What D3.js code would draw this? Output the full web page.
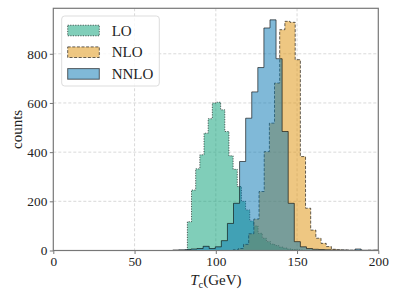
<!DOCTYPE html>
<html>
<head>
<meta charset="utf-8">
<script src="https://cdn.jsdelivr.net/npm/d3@7/dist/d3.min.js"></script>
<style>
  body { margin: 0; background: #fff; }
  text { font-family: "Liberation Serif", "DejaVu Serif", serif; fill: #222; }
</style>
</head>
<body>
<div id="chart"></div>
<script>
// histogram bins: first edge (GeV), bin width (GeV), counts per bin
var loStart = 82.5, loWidth = 2.56;
var loCounts = [117, 246, 332, 389, 477, 536, 600, 603, 572, 484, 385, 330, 260, 200,
  165, 120, 100, 70, 50, 36, 26, 20, 14, 10, 6, 4, 3, 2, 1, 1, 0, 1];

var nloStart = 110.7, nloWidth = 3.18;
var nloCounts = [3, 8, 25, 68, 128, 240, 402, 518, 681, 898, 932, 928, 776, 382, 172,
  83, 50, 29, 16, 5, 3, 2, 1, 1, 1, 0, 1];

var nnloStart = 73.5, nnloWidth = 3.74;
var nnloCounts = [2, 3, 4, 6, 8, 17, 8, 15, 40, 110, 192, 362, 538, 645, 744, 905, 938,
  780, 484, 192, 36, 15, 8, 5, 4, 3, 2, 2, 2, 1, 6, 1, 1, 2];

var xTicks = [0, 50, 100, 150, 200];
var yTicks = [0, 200, 400, 600, 800];

var series = [
  {label: 'LO', start: loStart, width: loWidth, counts: loCounts, color: '#029e73', dash: '1.2,1.3'},
  {label: 'NLO', start: nloStart, width: nloWidth, counts: nloCounts, color: '#de8f05', dash: '3,1.6'},
  {label: 'NNLO', start: nnloStart, width: nnloWidth, counts: nnloCounts, color: '#0173b2', dash: null}
];

var W = 399, H = 299;
var margin = {top: 8.3, right: 20.7, bottom: 48.5, left: 53.3};
var w = W - margin.left - margin.right,
    h = H - margin.top - margin.bottom;

var svg = d3.select('#chart').append('svg')
  .attr('width', W)
  .attr('height', H);

var g = svg.append('g')
  .attr('transform', 'translate(' + margin.left + ',' + margin.top + ')');

var x = d3.scaleLinear().domain([0, 200]).range([0, w]);
var y = d3.scaleLinear().domain([0, 985]).range([h, 0]);

// grid
g.append('g').selectAll('line').data(xTicks.slice(1, -1)).enter().append('line')
  .attr('x1', x).attr('x2', x).attr('y1', 0).attr('y2', h)
  .style('stroke', '#cfcfcf').style('stroke-width', 0.8).style('stroke-dasharray', '3,2');
g.append('g').selectAll('line').data(yTicks.slice(1)).enter().append('line')
  .attr('y1', y).attr('y2', y).attr('x1', 0).attr('x2', w)
  .style('stroke', '#cfcfcf').style('stroke-width', 0.8).style('stroke-dasharray', '3,2');

svg.append('defs').append('clipPath').attr('id', 'clip')
  .append('rect').attr('width', w).attr('height', h);

var line = d3.line()
  .x(function(d) { return x(d[0]); })
  .y(function(d) { return y(d[1]); });

function steps(s) {
  var pts = [[s.start, 0]];
  s.counts.forEach(function(c, i) {
    pts.push([s.start + i * s.width, c]);
    pts.push([s.start + (i + 1) * s.width, c]);
  });
  pts.push([s.start + s.counts.length * s.width, 0]);
  return pts;
}

var hist = g.append('g').attr('clip-path', 'url(#clip)');
series.forEach(function(s) {
  hist.append('path')
    .attr('d', line(steps(s)))
    .style('fill', s.color)
    .style('fill-opacity', 0.5)
    .style('stroke', '#000')
    .style('stroke-opacity', 0.6)
    .style('stroke-width', 1)
    .style('stroke-dasharray', s.dash);
});

// axes
var xAxis = g.append('g').attr('transform', 'translate(0,' + h + ')')
  .call(d3.axisBottom(x).tickValues(xTicks).tickSize(3.5).tickPadding(3));
var yAxis = g.append('g')
  .call(d3.axisLeft(y).tickValues(yTicks).tickSize(3.5).tickPadding(2.5));
[xAxis, yAxis].forEach(function(a) {
  a.select('.domain').remove();
  a.selectAll('line').style('stroke', '#777');
  a.selectAll('text').style('font-size', '13.3px').style('fill', '#222')
    .style('font-family', '"Liberation Serif", serif');
});

g.append('rect').attr('width', w).attr('height', h)
  .style('fill', 'none').style('stroke', '#777').style('stroke-width', 1.2);

// labels
var xl = svg.append('text')
  .attr('x', margin.left + w / 2).attr('y', 285)
  .attr('text-anchor', 'middle')
  .style('font-size', '15px');
xl.append('tspan').style('font-style', 'italic').text('T');
xl.append('tspan').attr('dy', 3).style('font-size', '10.5px').text('c');
xl.append('tspan').attr('dy', -3).text('(GeV)');

svg.append('text')
  .attr('transform', 'translate(22,' + (margin.top + h / 2) + ')rotate(-90)')
  .attr('text-anchor', 'middle')
  .style('font-size', '15px')
  .text('counts');

// legend
var leg = g.append('g').attr('transform', 'translate(8.4,7.7)');
leg.append('rect')
  .attr('width', 97.6).attr('height', 70).attr('rx', 3)
  .style('fill', '#fff').style('fill-opacity', 0.8)
  .style('stroke', '#ddd').style('stroke-width', 1);
series.forEach(function(s, i) {
  var row = leg.append('g').attr('transform', 'translate(6,' + (14.5 + i * 21.7) + ')');
  row.append('rect')
    .attr('y', -5.3).attr('width', 31.6).attr('height', 10.6)
    .style('fill', s.color).style('fill-opacity', 0.5)
    .style('stroke', '#000').style('stroke-opacity', 0.6).style('stroke-width', 1)
    .style('stroke-dasharray', s.dash);
  row.append('text')
    .attr('x', 44).attr('y', 5)
    .style('font-size', '15px')
    .text(s.label);
});
</script>
</body>
</html>
